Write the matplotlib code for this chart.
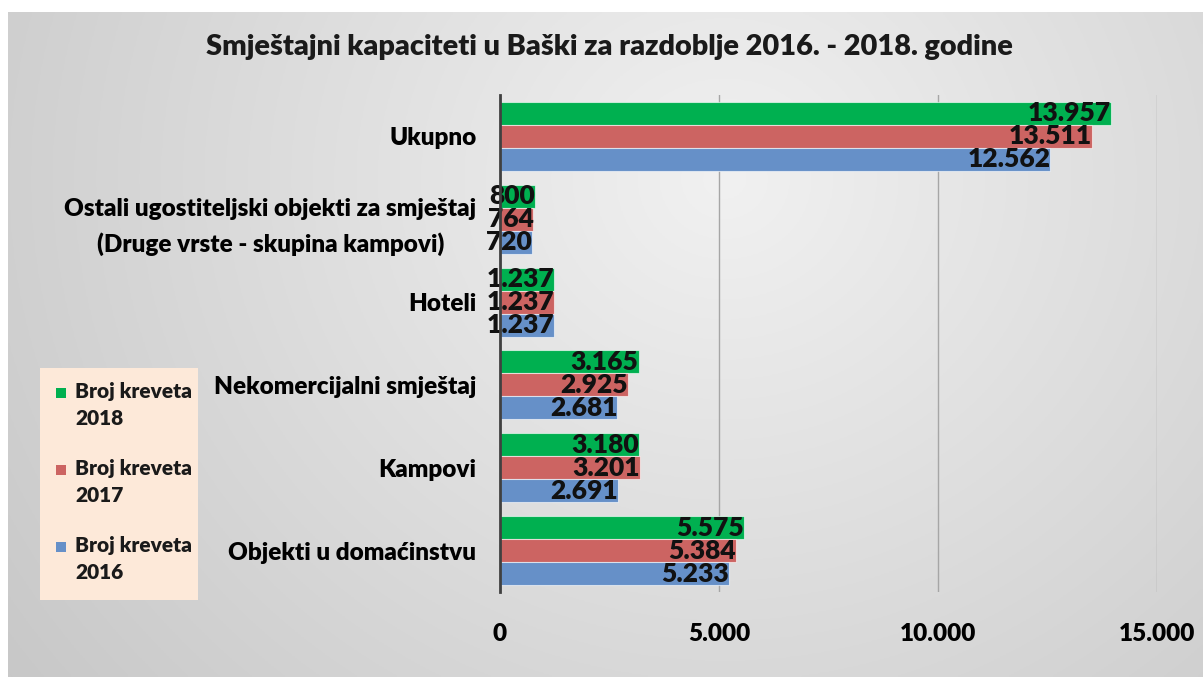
import numpy as np
import matplotlib
matplotlib.use("Agg")
import matplotlib.pyplot as plt
from matplotlib.patches import Rectangle

plt.rcParams['font.family'] = ['Lato', 'DejaVu Sans']
plt.rcParams['font.weight'] = 'heavy'
TEZINA = 'heavy'

# podaci (odozgo prema dolje)
kategorije = ['Ukupno',
              'Ostali ugostiteljski objekti za smještaj\n(Druge vrste - skupina kampovi)',
              'Hoteli',
              'Nekomercijalni smještaj',
              'Kampovi',
              'Objekti u domaćinstvu']
kreveti_2018 = [13957, 800, 1237, 3165, 3180, 5575]
kreveti_2017 = [13511, 764, 1237, 2925, 3201, 5384]
kreveti_2016 = [12562, 720, 1237, 2681, 2691, 5233]
serije = ['Broj kreveta\n2018', 'Broj kreveta\n2017', 'Broj kreveta\n2016']
boje = ['#00b050', '#cc6462', '#6690c8']
x_ticks = [0, 5000, 10000, 15000]


def fmt(v):
    return f"{v:,}".replace(',', '.')


W, H = 1203, 677
fig = plt.figure(figsize=(W / 100, H / 100), dpi=100, facecolor='white')

# pozadina s gradijentom
bg = fig.add_axes([8 / W, 0, 1 - 8 / W, 1 - 12 / H], zorder=-10)
gx, gy = np.meshgrid(np.linspace(0, 1, 400), np.linspace(0, 1, 250))
d = np.sqrt(((gx - 0.6) / 0.6) ** 2 + ((gy - 0.25) / 1.0) ** 2)
val = np.clip(241 - 33 * d, 200, 245) / 255.0
bg.imshow(np.dstack([val, val, val]), aspect='auto', extent=(0, 1, 1, 0))
bg.axis('off')

ax = fig.add_axes([500 / W, 1 - 592 / H, (1157 - 500) / W, (592 - 95) / H])
ax.set_facecolor('none')

y = np.arange(len(kategorije))
h = 23 / 83
podaci = [kreveti_2018, kreveti_2017, kreveti_2016]
for k, (vals, col) in enumerate(zip(podaci, boje)):
    pos = y + (k - 1) * h
    ax.barh(pos, vals, height=h, color=col, edgecolor=(1, 1, 1, 0.6),
            linewidth=0.8, zorder=3)
    for p, v in zip(pos, vals):
        ax.text(v, p, fmt(v), ha='right', va='center', fontsize=19,
                fontweight=TEZINA, color='#111111', zorder=4)

ax.set_ylim(len(kategorije) - 0.5, -0.5)
ax.set_xlim(0, 15000)
ax.set_yticks(y)
ax.set_yticklabels(kategorije, fontsize=17.5, fontweight=TEZINA,
                   multialignment='center', linespacing=1.6)
ax.set_xticks(x_ticks)
ax.set_xticklabels([fmt(t) for t in x_ticks], fontsize=17.5, fontweight=TEZINA)
ax.tick_params(axis='y', length=0, pad=17)
ax.tick_params(axis='x', length=0, pad=22)
for s in ['top', 'right', 'bottom']:
    ax.spines[s].set_visible(False)
ax.spines['left'].set_color('#404040')
ax.spines['left'].set_linewidth(2)
ax.spines['left'].set_zorder(5)
ax.grid(axis='x', color='#a6a6a6', linewidth=1, zorder=0)
ax.set_axisbelow(True)

fig.text(609 / W, 1 - 47 / H,
         'Smještajni kapaciteti u Baški za razdoblje 2016. - 2018. godine',
         ha='center', va='center', fontsize=20.8, fontweight=TEZINA, color='#1a1a1a')

# legenda
fig.patches.append(Rectangle((40 / W, 1 - 600 / H), 158 / W, 232 / H,
                             transform=fig.transFigure, facecolor='#fde9d9',
                             edgecolor='none', zorder=1))
for k, (ime, col) in enumerate(zip(serije, boje)):
    yy = 393 + k * 77
    fig.patches.append(Rectangle((56 / W, 1 - (yy + 5) / H), 10 / W, 10 / H,
                                 transform=fig.transFigure, facecolor=col,
                                 edgecolor='none', zorder=2))
    fig.text(75 / W, 1 - (yy - 11) / H, ime, ha='left', va='top',
             fontsize=15, fontweight=TEZINA, color='#1a1a1a', linespacing=1.5)

fig.savefig('out.png', dpi=100, facecolor=fig.get_facecolor())
